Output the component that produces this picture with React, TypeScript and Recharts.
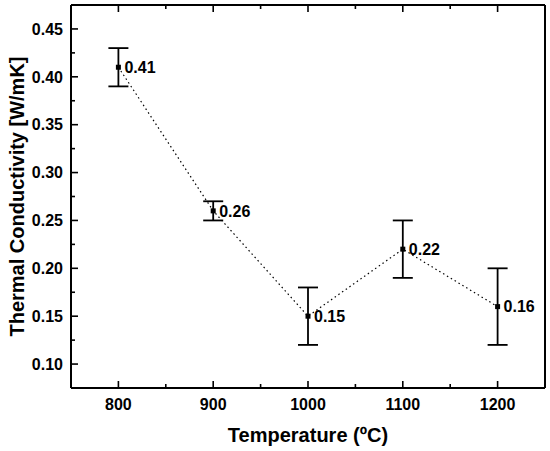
import React from "react";
import { ComposedChart, Line, XAxis, YAxis, ErrorBar, LabelList } from "recharts";

const temperatures = [800, 900, 1000, 1100, 1200];
const conductivity = [0.41, 0.26, 0.15, 0.22, 0.16];
const errors = [0.02, 0.01, 0.03, 0.03, 0.04];
const xTicks = [800, 850, 900, 950, 1000, 1050, 1100, 1150, 1200];
const yTicks = [0.1, 0.125, 0.15, 0.175, 0.2, 0.225, 0.25, 0.275, 0.3, 0.325, 0.35, 0.375, 0.4, 0.425, 0.45];

const data = temperatures.map((t, i) => ({ t, k: conductivity[i], err: errors[i] }));

const FONT = "'Liberation Sans', Arial, sans-serif";
const MAJOR = 7;
const MINOR = 4;

const isMajorX = (v: number) => v % 100 === 0;
const isMajorY = (v: number) => Math.abs(v * 20 - Math.round(v * 20)) < 1e-6;

const BottomTick = (p: any) => {
  const v = p.payload.value;
  const major = isMajorX(v);
  return (
    <g>
      <path d={`M${p.x},${p.y}V${p.y - (major ? MAJOR : MINOR)}`} stroke="#000" strokeWidth={1.6} fill="none" />
      {major && (
        <text x={p.x} y={p.y + 22} textAnchor="middle" fontFamily={FONT} fontWeight="bold" fontSize={16} fill="#000" stroke="none">
          {v}
        </text>
      )}
    </g>
  );
};

const TopTick = (p: any) => {
  const v = p.payload.value;
  const major = isMajorX(v);
  return <path d={`M${p.x},${p.y}V${p.y + (major ? MAJOR : MINOR)}`} stroke="#000" strokeWidth={1.6} fill="none" />;
};

const LeftTick = (p: any) => {
  const v = p.payload.value;
  const major = isMajorY(v);
  return (
    <g>
      <path d={`M${p.x},${p.y}H${p.x + (major ? MAJOR : MINOR)}`} stroke="#000" strokeWidth={1.6} fill="none" />
      {major && (
        <text x={p.x - 8} y={p.y} dy="0.36em" textAnchor="end" fontFamily={FONT} fontWeight="bold" fontSize={16} fill="#000" stroke="none">
          {v.toFixed(2)}
        </text>
      )}
    </g>
  );
};

const RightTick = (p: any) => {
  const v = p.payload.value;
  const major = isMajorY(v);
  return <path d={`M${p.x},${p.y}H${p.x - (major ? MAJOR : MINOR)}`} stroke="#000" strokeWidth={1.6} fill="none" />;
};

const SquareDot = (p: any) => {
  if (p.cx == null || p.cy == null) return null;
  return <rect x={p.cx - 2.5} y={p.cy - 2.5} width={5} height={5} fill="#000" stroke="none" />;
};

const YLabel = (p: any) => {
  const vb = p.viewBox;
  const cx = 17;
  const cy = vb.y + vb.height / 2;
  return (
    <text x={cx} y={cy} transform={`rotate(-90 ${cx} ${cy})`} textAnchor="middle" dy="0.36em" fontFamily={FONT} fontWeight="bold" fontSize={20} fill="#000">
      Thermal Conductivity [W/mK]
    </text>
  );
};

const XLabel = (p: any) => {
  const vb = p.viewBox;
  const cx = vb.x + vb.width / 2;
  return (
    <text x={cx} y={442} textAnchor="middle" fontFamily={FONT} fontWeight="bold" fontSize={20} fill="#000">
      Temperature (ºC)
    </text>
  );
};

const ValueLabel = (p: any) => {
  return (
    <text x={p.x + 6} y={p.y} dy="0.36em" textAnchor="start" fontFamily={FONT} fontWeight="bold" fontSize={16} fill="#000">
      {Number(p.value).toFixed(2)}
    </text>
  );
};

export default function App() {
  return (
    <div style={{ position: "absolute", left: 0, top: 0, width: 550, height: 451, background: "#fff" }}>
      <ComposedChart width={550} height={451} data={data} margin={{ top: 4, right: 4, bottom: 0, left: 0 }}>
        <XAxis
          xAxisId="b"
          dataKey="t"
          type="number"
          domain={[750, 1250]}
          ticks={xTicks}
          orientation="bottom"
          height={63}
          tickSize={0}
          tickMargin={0}
          tickLine={false}
          tick={<BottomTick />}
          interval={0}
          axisLine={{ stroke: "#000", strokeWidth: 2 }}
          label={<XLabel />}
        />
        <XAxis
          xAxisId="t"
          dataKey="t"
          type="number"
          domain={[750, 1250]}
          ticks={xTicks}
          orientation="top"
          height={1}
          tickSize={0}
          tickMargin={0}
          tickLine={false}
          tick={<TopTick />}
          interval={0}
          axisLine={{ stroke: "#000", strokeWidth: 2 }}
        />
        <YAxis
          yAxisId="l"
          type="number"
          domain={[0.075, 0.475]}
          ticks={yTicks}
          orientation="left"
          width={71}
          tickSize={0}
          tickMargin={0}
          tickLine={false}
          tick={<LeftTick />}
          interval={0}
          axisLine={{ stroke: "#000", strokeWidth: 2 }}
          label={<YLabel />}
        />
        <YAxis
          yAxisId="r"
          type="number"
          domain={[0.075, 0.475]}
          ticks={yTicks}
          orientation="right"
          width={1}
          tickSize={0}
          tickMargin={0}
          tickLine={false}
          tick={<RightTick />}
          interval={0}
          axisLine={{ stroke: "#000", strokeWidth: 2 }}
        />
        <Line
          xAxisId="b"
          yAxisId="l"
          dataKey="k"
          stroke="#000"
          strokeWidth={1.2}
          strokeDasharray="1.5 3"
          dot={<SquareDot />}
          activeDot={false}
          isAnimationActive={false}
        >
          <ErrorBar dataKey="err" width={10} stroke="#000" strokeWidth={1.8} direction="y" />
          <LabelList dataKey="k" content={<ValueLabel />} />
        </Line>
      </ComposedChart>
    </div>
  );
}
